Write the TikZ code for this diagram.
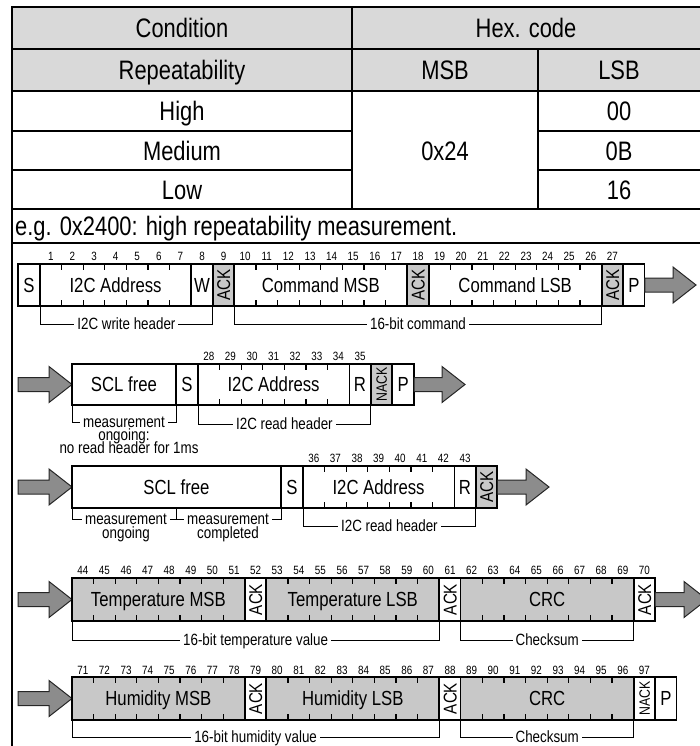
\documentclass[tikz,border=0pt]{standalone}
\usepackage{fontspec}
\setmainfont{Liberation Sans}[FakeStretch=0.82]
\definecolor{hdrgrey}{RGB}{217,217,217}
\definecolor{boxgrey}{RGB}{200,200,200}
\definecolor{arrowgrey}{RGB}{140,140,140}
\newcommand\fld[9]{%
  \draw[#6] (#2,#4) rectangle (#3,#5);
  \node[#9] (#1) at ({(#2+#3)/2},{(#4+#5)/2}) {#8};
  \ifnum#7>0
    \foreach \i in {1,...,#7}{%
      \draw[tick] ({#2+\i*(#3-#2)/(#7+1)},#4) -- ++(0,6) ({#2+\i*(#3-#2)/(#7+1)},#5) -- ++(0,-6);}%
  \fi}
\newcommand\brk[6]{%
  \draw[brl] (#2,#4) -- (#2,#5) -- (#3,#5) -- (#3,#4);
  \node[brt] (#1) at ({(#2+#3)/2},#5) {#6};}
\newcommand\bitnums[4]{%
  \foreach \n in {#1,...,#2}{\node[num] (n\n) at ({#3+(\n-#1)*21.6+10.8},#4) {\n};}}
\newcommand\arr[3]{%
  \draw[arw] (#1,{#3-7}) -- ({#2-23},{#3-7}) -- ({#2-23},{#3-18}) -- (#2,#3) -- ({#2-23},{#3+18}) -- ({#2-23},{#3+7}) -- (#1,{#3+7}) -- cycle;}
\begin{document}
\begin{tikzpicture}[x=1pt,y=-1pt,
  tline/.style={line width=1.9pt},
  bx/.style={draw=black,line width=1.3pt},
  bxg/.style={bx,fill=boxgrey},
  ak/.style={draw=black,line width=1.9pt,fill=white},
  akg/.style={draw=black,line width=1.9pt,fill=boxgrey},
  tick/.style={line width=1.1pt},
  lbl/.style={font=\fontsize{20.4}{22}\selectfont,inner sep=0pt,text height=14.6pt,text depth=0pt},
  ack/.style={font=\fontsize{18.5}{19}\selectfont,rotate=90,inner sep=0pt,text height=13.2pt,text depth=0pt},
  nack/.style={font=\fontsize{15}{16}\selectfont,rotate=90,inner sep=0pt,text height=10.7pt,text depth=0pt},
  num/.style={font=\fontsize{12}{13}\selectfont,inner sep=0pt,text height=8.6pt,text depth=0pt},
  brl/.style={line width=1pt},
  brt/.style={font=\fontsize{16.3}{17}\selectfont,fill=white,inner sep=3pt,text height=11.7pt,text depth=0pt},
  brt2/.style={font=\fontsize{16.3}{17}\selectfont,inner sep=0pt,text height=11.7pt,text depth=0pt},
  tab/.style={font=\fontsize{26.7}{28}\selectfont,inner sep=0pt,text height=19.1pt,text depth=0pt},
  arw/.style={draw=black!85,line width=1pt,fill=arrowgrey,line join=miter}
]
\useasboundingbox (0,0) rectangle (700,746);
\clip (0,0) rectangle (700,746);
% ---------- table ----------
\fill[hdrgrey] (12,7) rectangle (710,91);
\draw[tline] (12,760) -- (12,7) -- (710,7);
\draw[tline] (12,49) -- (710,49) (12,91) -- (710,91)
  (12,131) -- (352,131) (538,131) -- (710,131)
  (12,170) -- (352,170) (538,170) -- (710,170)
  (12,209) -- (710,209) (12,243) -- (710,243)
  (352,7) -- (352,209) (538,49) -- (538,209);
\node[tab] (cond) at (182,28) {Condition};
\node[tab] (hex) at (526,28) {Hex. code};
\node[tab] (rep) at (182,70) {Repeatability};
\node[tab] (msb) at (445,70) {MSB};
\node[tab] (lsb) at (619,70) {LSB};
\node[tab] (hi) at (182,111) {High};
\node[tab] (med) at (182,150.5) {Medium};
\node[tab] (low) at (182,189.5) {Low};
\node[tab] (x24) at (445,150.5) {0x24};
\node[tab] (v00) at (619,111) {00};
\node[tab] (v0b) at (619,150.5) {0B};
\node[tab] (v16) at (619,189.5) {16};
\node[tab,anchor=west] (eg) at (15,226) {e.g. 0x2400: high repeatability measurement.};
% ---------- row 1 ----------
\fld{s1}{18}{40}{264}{306}{bx}{0}{S}{lbl}
\fld{addr1}{40}{191.2}{264}{306}{bx}{6}{I2C Address}{lbl}
\fld{w1}{191.2}{212.8}{264}{306}{ak}{0}{W}{lbl}
\fld{ack1}{212.8}{234.4}{264}{306}{akg}{0}{ACK}{ack}
\fld{cmsb}{234.4}{407.2}{264}{306}{bx}{7}{Command MSB}{lbl}
\fld{ack2}{407.2}{428.8}{264}{306}{akg}{0}{ACK}{ack}
\fld{clsb}{428.8}{601.6}{264}{306}{bx}{7}{Command LSB}{lbl}
\fld{ack3}{601.6}{623.2}{264}{306}{akg}{0}{ACK}{ack}
\fld{p1}{623.2}{644.8}{264}{306}{bx}{0}{P}{lbl}
\arr{644.8}{696}{285}
\bitnums{1}{27}{40}{256.5}
\brk{wh}{40}{212.8}{306}{324}{I2C write header}
\brk{cmd}{234.4}{601.6}{306}{324}{16-bit command}
% ---------- row 2 ----------
\arr{18}{72}{384.5}
\fld{scl2}{72}{176}{364}{405}{bx}{0}{SCL free}{lbl}
\fld{s2}{176}{198}{364}{405}{bx}{0}{S}{lbl}
\fld{addr2}{198}{349.2}{364}{405}{bx}{6}{I2C Address}{lbl}
\fld{r2}{349.2}{370.8}{364}{405}{bx}{0}{R}{lbl}
\fld{nack2}{370.8}{392.4}{364}{405}{akg}{0}{NACK}{nack}
\fld{p2}{392.4}{414}{364}{405}{bx}{0}{P}{lbl}
\arr{414}{465}{384.5}
\bitnums{28}{35}{198}{356.5}
\brk{mo2}{72}{176}{405}{422}{measurement}
\node[brt2] (mo2b) at (124,434.5) {ongoing:};
\node[brt2] (mo2c) at (129,448) {no read header for 1ms};
\brk{rh2}{198}{370.8}{405}{424}{I2C read header}
% ---------- row 3 ----------
\arr{18}{72}{487}
\fld{scl3}{72}{281}{466}{508}{bx}{0}{SCL free}{lbl}
\fld{s3}{281}{303}{466}{508}{bx}{0}{S}{lbl}
\fld{addr3}{303}{454.2}{466}{508}{bx}{6}{I2C Address}{lbl}
\fld{r3}{454.2}{475.8}{466}{508}{bx}{0}{R}{lbl}
\fld{ack3b}{475.8}{497.4}{466}{508}{akg}{0}{ACK}{ack}
\arr{497.4}{549}{487}
\bitnums{36}{43}{303}{458.5}
\draw[brl] (72,508) -- (72,519) -- (281,519) -- (281,508) (176,508) -- (176,519);
\node[brt] (mo3) at (126,519) {measurement};
\node[brt2] (mo3b) at (126,532.5) {ongoing};
\node[brt] (mc3) at (228,519) {measurement};
\node[brt2] (mc3b) at (228,532.5) {completed};
\brk{rh3}{303}{475.8}{508}{526}{I2C read header}
% ---------- row 4 ----------
\arr{18}{72}{599.5}
\fld{tmsb}{72}{244.8}{578}{621}{bxg}{7}{Temperature MSB}{lbl}
\fld{ack4a}{244.8}{266.4}{578}{621}{ak}{0}{ACK}{ack}
\fld{tlsb}{266.4}{439.2}{578}{621}{bxg}{7}{Temperature LSB}{lbl}
\fld{ack4b}{439.2}{460.8}{578}{621}{ak}{0}{ACK}{ack}
\fld{crc4}{460.8}{633.6}{578}{621}{bxg}{7}{CRC}{lbl}
\fld{ack4c}{633.6}{655.2}{578}{621}{ak}{0}{ACK}{ack}
\arr{655.2}{707}{599.5}
\bitnums{44}{70}{72}{570.5}
\brk{tv}{72}{439.2}{621}{640}{16-bit temperature value}
\brk{cs4}{460.8}{633.6}{621}{640}{Checksum}
% ---------- row 5 ----------
\arr{18}{72}{698.5}
\fld{hmsb}{72}{244.8}{677}{720}{bxg}{7}{Humidity MSB}{lbl}
\fld{ack5a}{244.8}{266.4}{677}{720}{ak}{0}{ACK}{ack}
\fld{hlsb}{266.4}{439.2}{677}{720}{bxg}{7}{Humidity LSB}{lbl}
\fld{ack5b}{439.2}{460.8}{677}{720}{ak}{0}{ACK}{ack}
\fld{crc5}{460.8}{633.6}{677}{720}{bxg}{7}{CRC}{lbl}
\fld{nack5}{633.6}{655.2}{677}{720}{ak}{0}{NACK}{nack}
\fld{p5}{655.2}{676.8}{677}{720}{bx}{0}{P}{lbl}
\bitnums{71}{97}{72}{670.5}
\brk{hv}{72}{439.2}{720}{737}{16-bit humidity value}
\brk{cs5}{460.8}{633.6}{720}{737}{Checksum}
\end{tikzpicture}
\end{document}
